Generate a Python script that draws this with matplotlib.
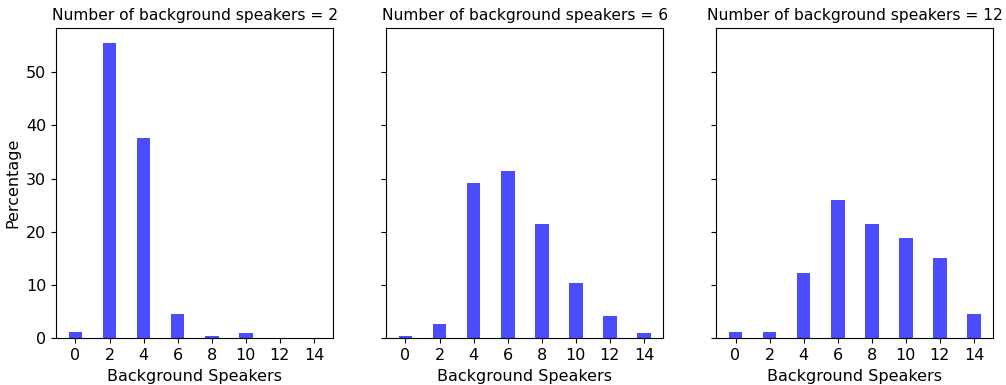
import matplotlib
matplotlib.use("Agg")
import matplotlib.pyplot as plt

speakers = [0, 2, 4, 6, 8, 10, 12, 14]
panel_counts = [2, 6, 12]
pct_2 = [1.25, 55.5, 37.6, 4.6, 0.5, 1.0, 0.0, 0.0]
pct_6 = [0.5, 2.7, 29.2, 31.4, 21.4, 10.5, 4.3, 1.0]
pct_12 = [1.25, 1.25, 12.2, 25.9, 21.4, 18.8, 15.1, 4.6]
series = [pct_2, pct_6, pct_12]

fig, axes = plt.subplots(1, 3, figsize=(10.06, 3.85), dpi=100, sharey=True)
fig.subplots_adjust(left=0.0557, right=0.9875, bottom=0.121, top=0.927, wspace=0.19)

for ax, n, vals in zip(axes, panel_counts, series):
    ax.bar(speakers, vals, width=0.8, color="blue", alpha=0.7)
    ax.set_xticks(speakers)
    ax.set_title(f"Number of background speakers = {n}", fontsize=11.2)
    ax.set_xlabel("Background Speakers", fontsize=11.5)
    ax.tick_params(labelsize=11.5)

axes[0].set_ylabel("Percentage", fontsize=11.5)

fig.savefig("out.png", dpi=100)
